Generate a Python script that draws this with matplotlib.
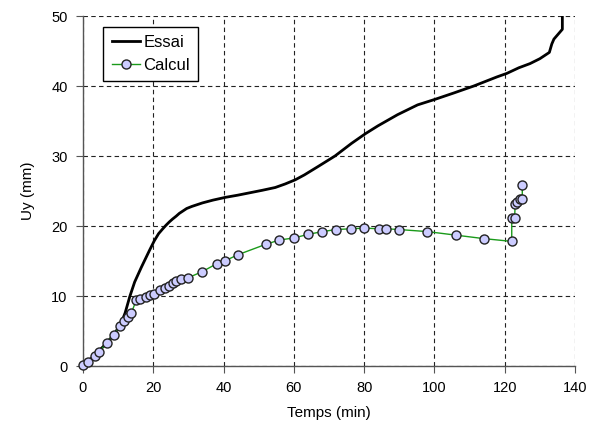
import matplotlib
matplotlib.use("Agg")
import matplotlib.pyplot as plt

plt.rcParams['font.family'] = ['Liberation Sans', 'DejaVu Sans']

essai_t = [0, 3, 6, 9, 11, 12, 13.3, 14.7, 16.6, 18.9, 20.3, 21.5, 22.7, 23.6, 24.6, 25.5, 26.5,
           27.4, 28.3, 29.5, 31, 34, 37,
           40.6, 44, 48, 51, 54.7, 57.5, 60.4, 63, 66.9, 71.7, 76.4, 80.4, 83.9, 89.5, 95.2,
           100.2, 105.5, 111.2, 117.8, 120.6, 124, 127.2, 130, 132.7, 133.4, 134, 136.4, 136.4]
essai_u = [0, 1.4, 2.9, 4.6, 6.3, 7.6, 9.9, 12.0, 14.1, 16.5, 17.9, 18.9, 19.6, 20.1, 20.6, 21.0, 21.4,
           21.8, 22.1, 22.5, 22.8,
           23.3, 23.7, 24.1, 24.4, 24.8, 25.1, 25.5, 26.0, 26.6, 27.3, 28.5, 30.0, 31.8, 33.2,
           34.3, 35.9, 37.3, 38.1, 39.0, 40.0, 41.3, 41.8, 42.6, 43.2, 43.9, 44.8, 46.0, 46.7,
           48.1, 52]

calcul_t = [0.1, 1.5, 3.4, 4.6, 6.7, 8.8, 10.6, 11.7, 12.8, 13.8, 15.2, 16.1, 17.8, 19.1, 20.3,
            21.9, 23.2, 24.4, 25.5, 26.5, 27.9, 29.9, 34.0, 38.0, 40.3, 44.1, 52.1, 55.9, 60.1,
            64.0, 68.1, 72.1, 76.2, 80.1, 84.2, 86.2, 89.8, 98.0, 106.0, 114.0, 122.0, 122.0,
            122.8, 123.0, 123.6, 124.3, 125.0, 125.0]
calcul_u = [0.2, 0.6, 1.5, 2.0, 3.3, 4.5, 5.7, 6.4, 7.0, 7.6, 9.5, 9.6, 9.8, 10.1, 10.3,
            10.9, 11.2, 11.5, 11.8, 12.1, 12.4, 12.6, 13.5, 14.6, 15.0, 15.9, 17.4, 18.0, 18.3,
            18.8, 19.2, 19.5, 19.6, 19.7, 19.6, 19.6, 19.5, 19.2, 18.7, 18.2, 17.8, 21.1,
            21.1, 23.2, 23.5, 23.9, 23.9, 25.8]

x_ticks = [0, 20, 40, 60, 80, 100, 120, 140]
y_ticks = [0, 10, 20, 30, 40, 50]

fig = plt.figure(figsize=(5.93, 4.30), dpi=100)
ax = fig.add_axes([83/593, (430-366)/430, (575-83)/593, (366-16)/430])

ax.plot(essai_t, essai_u, color='black', lw=2.0, label='Essai', zorder=3, clip_on=True)
ax.plot(calcul_t, calcul_u, color='#1a9a1a', lw=1.0, marker='o', ms=6.5,
        mfc='#ccccff', mec='#222222', mew=1.0, label='Calcul', zorder=4, clip_on=False)

ax.set_xlim(0, 140)
ax.set_ylim(0, 50)
ax.set_xticks(x_ticks)
ax.set_yticks(y_ticks)
ax.grid(True, color='#222222', linestyle=(0, (4, 3)), lw=0.8)
ax.set_axisbelow(True)
for s in ['top', 'right']:
    ax.spines[s].set_visible(False)
for s in ['left', 'bottom']:
    ax.spines[s].set_color('#555555')
    ax.spines[s].set_linewidth(1.0)
ax.tick_params(direction='out', length=5, color='#555555', labelsize=10.5, pad=6)
ax.set_xlabel('Temps (min)', fontsize=11, labelpad=8)
ax.set_ylabel('Uy (mm)', fontsize=11, labelpad=12)

leg = ax.legend(loc='upper left', bbox_to_anchor=(0.041, 0.969), borderaxespad=0,
                fontsize=12, frameon=True, fancybox=False, edgecolor='black', framealpha=1,
                handlelength=1.7, borderpad=0.5, labelspacing=0.45, handletextpad=0.2)
leg.get_frame().set_linewidth(1.0)

fig.savefig('out.png', dpi=100)
